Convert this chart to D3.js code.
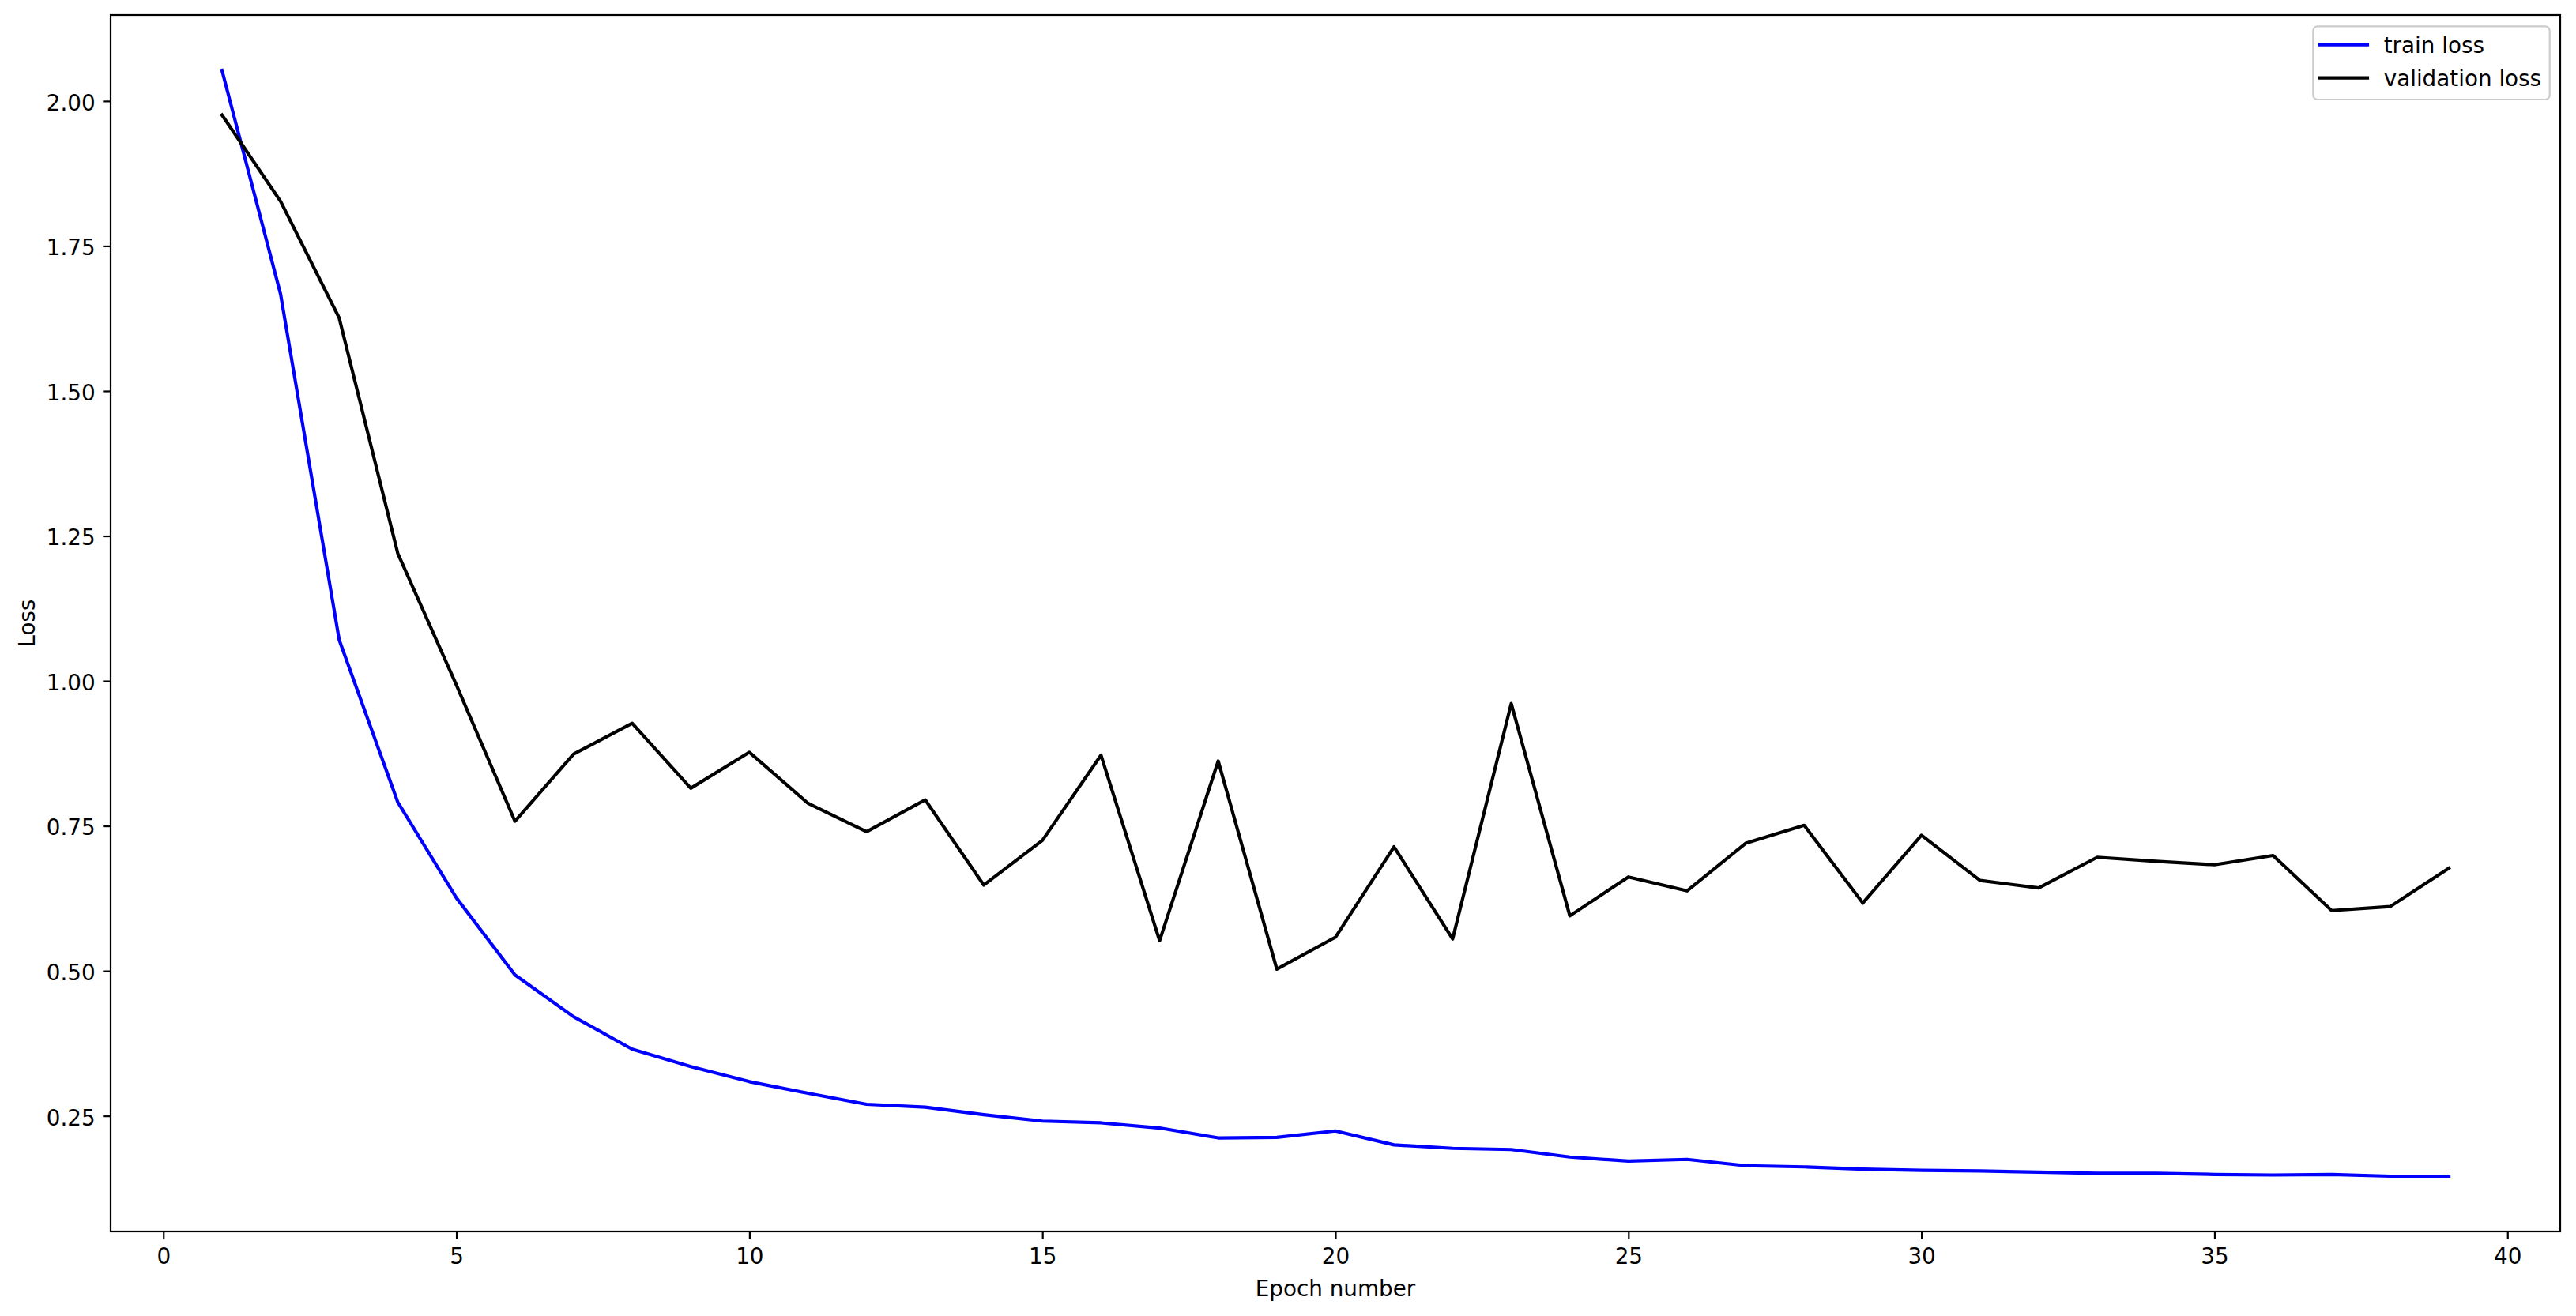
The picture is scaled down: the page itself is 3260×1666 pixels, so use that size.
<!DOCTYPE html>
<html>
<head>
<meta charset="utf-8">
<script src="https://cdn.jsdelivr.net/npm/d3@7"></script>
<style>
  html, body { margin: 0; padding: 0; background: #ffffff; }
  svg { display: block; }
  text { font-family: "DejaVu Sans", sans-serif; fill: #000; }
</style>
</head>
<body>
<svg id="chart" width="3260" height="1666"></svg>
<script>
const epochs = [1,2,3,4,5,6,7,8,9,10,11,12,13,14,15,16,17,18,19,20,21,22,23,24,25,26,27,28,29,30,31,32,33,34,35,36,37,38,39];
const trainLoss = [2.053,1.667,1.071,0.791,0.626,0.493,0.421,0.365,0.335,0.309,0.289,0.270,0.265,0.252,0.241,0.238,0.229,0.212,0.213,0.224,0.200,0.194,0.192,0.179,0.172,0.175,0.164,0.162,0.158,0.156,0.155,0.153,0.151,0.151,0.149,0.148,0.149,0.146,0.146];
const valLoss = [1.976,1.827,1.626,1.220,0.993,0.758,0.874,0.927,0.815,0.877,0.789,0.740,0.795,0.648,0.725,0.872,0.552,0.862,0.503,0.558,0.714,0.555,0.961,0.595,0.662,0.638,0.720,0.751,0.617,0.734,0.656,0.643,0.696,0.689,0.683,0.699,0.604,0.611,0.677];
const xTicks = [0,5,10,15,20,25,30,35,40];
const yTicks = [0.25,0.50,0.75,1.00,1.25,1.50,1.75,2.00];
const seriesNames = ["train loss", "validation loss"];
const seriesColors = ["#0000ff", "#000000"];
const xLabel = "Epoch number";
const yLabel = "Loss";

const svg = d3.select("#chart");
const L = 140, R = 3240, T = 19, B = 1559;
const fs = 27.8;

// matplotlib-style 5% margins
const xmin = d3.min(epochs), xmax = d3.max(epochs);
const xm = (xmax - xmin) * 0.05;
const allY = trainLoss.concat(valLoss);
const ymin = d3.min(allY), ymax = d3.max(allY);
const ym = (ymax - ymin) * 0.05;

const x = d3.scaleLinear().domain([xmin - xm, xmax + xm]).range([L, R]);
const y = d3.scaleLinear().domain([ymin - ym, ymax + ym]).range([B, T]);

// axes
const gx = svg.append("g").attr("transform", `translate(0,${B})`)
  .call(d3.axisBottom(x).tickValues(xTicks).tickFormat(d3.format("d"))
        .tickSize(9.7).tickSizeOuter(0).tickPadding(11.5));
const gy = svg.append("g").attr("transform", `translate(${L},0)`)
  .call(d3.axisLeft(y).tickValues(yTicks).tickFormat(d3.format(".2f"))
        .tickSize(9.7).tickSizeOuter(0).tickPadding(9.7));
[gx, gy].forEach(g => {
  g.select(".domain").remove();
  g.selectAll(".tick line").attr("stroke", "#000").attr("stroke-width", 2.2);
  g.selectAll(".tick text").attr("font-size", fs).attr("font-family", "DejaVu Sans").attr("fill", "#000");
});
gy.selectAll(".tick text").attr("dy", "0.41em");

// lines
const series = [trainLoss, valLoss];
const clip = svg.append("clipPath").attr("id", "clip")
  .append("rect").attr("x", L).attr("y", T).attr("width", R - L).attr("height", B - T);
series.forEach((vals, i) => {
  const line = d3.line().x((d, j) => x(epochs[j])).y(d => y(d));
  svg.append("path")
    .attr("clip-path", "url(#clip)")
    .attr("d", line(vals))
    .attr("fill", "none")
    .attr("stroke", seriesColors[i])
    .attr("stroke-width", 4.17)
    .attr("stroke-linejoin", "round")
    .attr("stroke-linecap", "square");
});

// spines
svg.append("rect").attr("x", L).attr("y", T).attr("width", R - L).attr("height", B - T)
  .attr("fill", "none").attr("stroke", "#000").attr("stroke-width", 2.2);

// axis labels
svg.append("text").attr("x", (L + R) / 2).attr("y", 1641)
  .attr("text-anchor", "middle").attr("font-size", fs).text(xLabel);
svg.append("text").attr("transform", `translate(44,${(T + B) / 2}) rotate(-90)`)
  .attr("text-anchor", "middle").attr("font-size", fs).text(yLabel);

// legend
const lg = svg.append("g");
lg.append("rect").attr("x", 2927.3).attr("y", 33.3).attr("width", 299.4).attr("height", 92.7)
  .attr("rx", 5.5).attr("ry", 5.5)
  .attr("fill", "#ffffff").attr("fill-opacity", 0.8)
  .attr("stroke", "#cccccc").attr("stroke-width", 2.2);
const rowY = [56.7, 98.7];
seriesNames.forEach((name, i) => {
  lg.append("line").attr("x1", 2936).attr("x2", 2996).attr("y1", rowY[i]).attr("y2", rowY[i])
    .attr("stroke", seriesColors[i]).attr("stroke-width", 4.17).attr("stroke-linecap", "square");
  lg.append("text").attr("x", 3016.7).attr("y", rowY[i]).attr("dy", "0.36em")
    .attr("font-size", fs).text(name);
});
</script>
</body>
</html>
